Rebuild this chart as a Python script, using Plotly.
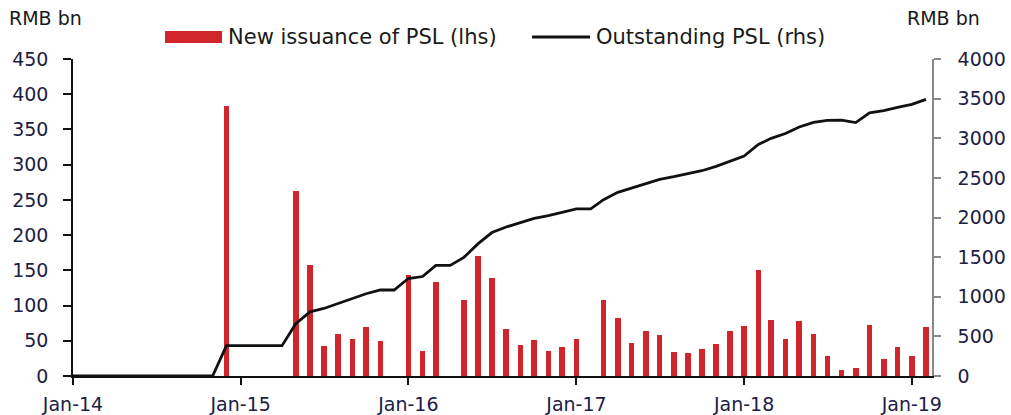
import pandas as pd
import plotly.graph_objects as go

# Monthly dates Jan-2014 .. Feb-2019
months = pd.date_range("2014-01-01", "2019-02-01", freq="MS")

# New issuance of PSL, RMB bn (lhs)
issuance = [
    None, None, None, None, None, None, None, None, None, None, None, 383,   # 2014
    None, None, None, None, 262, 158, 42, 60, 52, 70, 50, None,             # 2015
    143, 35, 134, -3, 108, 170, 139, 67, 44, 51, 36, 41,                    # 2016
    53, None, 108, 83, 47, 64, 58, 34, 32, 38, 46, 64,                      # 2017
    71, 150, 79, 52, 78, 59, 29, 8, 11, 72, 24, 41,                         # 2018
    29, 70,                                                                 # 2019
]

# Outstanding PSL, RMB bn (rhs)
outstanding = [
    0, 0, 0, 0, 0, 0, 0, 0, 0, 0, 0, 383,
    383, 383, 383, 383, 660, 810, 852, 912, 970, 1038, 1085, 1085,
    1230, 1255, 1395, 1395, 1497, 1670, 1810, 1880, 1935, 1988, 2025, 2065,
    2110, 2110, 2225, 2318, 2370, 2430, 2482, 2515, 2549, 2590, 2645, 2710,
    2775, 2922, 2999, 3060, 3142, 3200, 3226, 3228, 3197, 3320, 3348, 3390,
    3428, 3491,
]

tick_dates = ["2014-01-01", "2015-01-01", "2016-01-01", "2017-01-01", "2018-01-01", "2019-01-01"]
tick_labels = ["Jan-14", "Jan-15", "Jan-16", "Jan-17", "Jan-18", "Jan-19"]

FONT = "DejaVu Sans"
TXT = "#1c2044"
RED = "#d0262b"

fig = go.Figure()
fig.add_trace(go.Bar(
    x=months, y=issuance, name="New issuance of PSL (lhs)",
    marker=dict(color=RED, line=dict(width=0)),
    width=12 * 86400000, yaxis="y", showlegend=False,
))
fig.add_trace(go.Scatter(
    x=months, y=outstanding, name="Outstanding PSL (rhs)", mode="lines",
    line=dict(color="#111111", width=2.8), yaxis="y2", showlegend=False,
))

fig.update_layout(
    width=1011, height=415,
    margin=dict(l=73, r=79, t=59, b=39, autoexpand=False),
    paper_bgcolor="white", plot_bgcolor="white",
    font=dict(family=FONT, size=19, color=TXT),
    xaxis=dict(
        type="date", range=["2014-01-01", "2019-02-14"],
        tickvals=tick_dates, ticktext=tick_labels,
        ticks="outside", ticklen=7, tickwidth=1.5, tickcolor="#111111",
        showline=True, linecolor="#111111", linewidth=1.5,
        showgrid=False, zeroline=False, ticklabelstandoff=3, automargin=False,
    ),
    yaxis=dict(
        range=[0, 450], dtick=50, tick0=0,
        ticks="outside", ticklen=8, tickwidth=1.5, tickcolor="#111111",
        showline=True, linecolor="#111111", linewidth=1.5,
        showgrid=False, zeroline=False, ticklabelstandoff=11, automargin=False,
    ),
    yaxis2=dict(
        range=[0, 4000], dtick=500, tick0=0, overlaying="y", side="right",
        ticks="outside", ticklen=7, tickwidth=1.5, tickcolor="#888888",
        showline=True, linecolor="#888888", linewidth=1.5,
        showgrid=False, zeroline=False, ticklabelstandoff=13, automargin=False,
    ),
    bargap=0,
)

# Manual legend (keys drawn to match the reference)
fig.add_shape(type="rect", xref="paper", yref="paper",
              x0=0.1071, x1=0.1735, y0=1.0505, y1=1.0883,
              fillcolor=RED, line=dict(width=0))
fig.add_shape(type="line", xref="paper", yref="paper",
              x0=0.5344, x1=0.6019, y0=1.0694, y1=1.0694,
              line=dict(color="#111111", width=2.8))
fig.add_annotation(text="New issuance of PSL (lhs)", xref="paper", yref="paper",
                   x=0.1781, y=1.0694, xanchor="left", yanchor="middle",
                   showarrow=False, font=dict(family=FONT, size=21, color="#1a1a1a"))
fig.add_annotation(text="Outstanding PSL (rhs)", xref="paper", yref="paper",
                   x=0.6065, y=1.0694, xanchor="left", yanchor="middle",
                   showarrow=False, font=dict(family=FONT, size=21, color="#1a1a1a"))
fig.add_annotation(text="RMB bn", xref="paper", yref="paper",
                   x=-0.0768, y=1.1293, xanchor="left", yanchor="middle",
                   showarrow=False, font=dict(family=FONT, size=19, color="#1a1a1a"))
fig.add_annotation(text="RMB bn", xref="paper", yref="paper",
                   x=0.9686, y=1.1293, xanchor="left", yanchor="middle",
                   showarrow=False, font=dict(family=FONT, size=19, color="#1a1a1a"))

fig.write_html(
    "out.html",
    config={"displayModeBar": False},
    post_script="document.body.style.margin='0';document.body.style.overflow='hidden';",
)
